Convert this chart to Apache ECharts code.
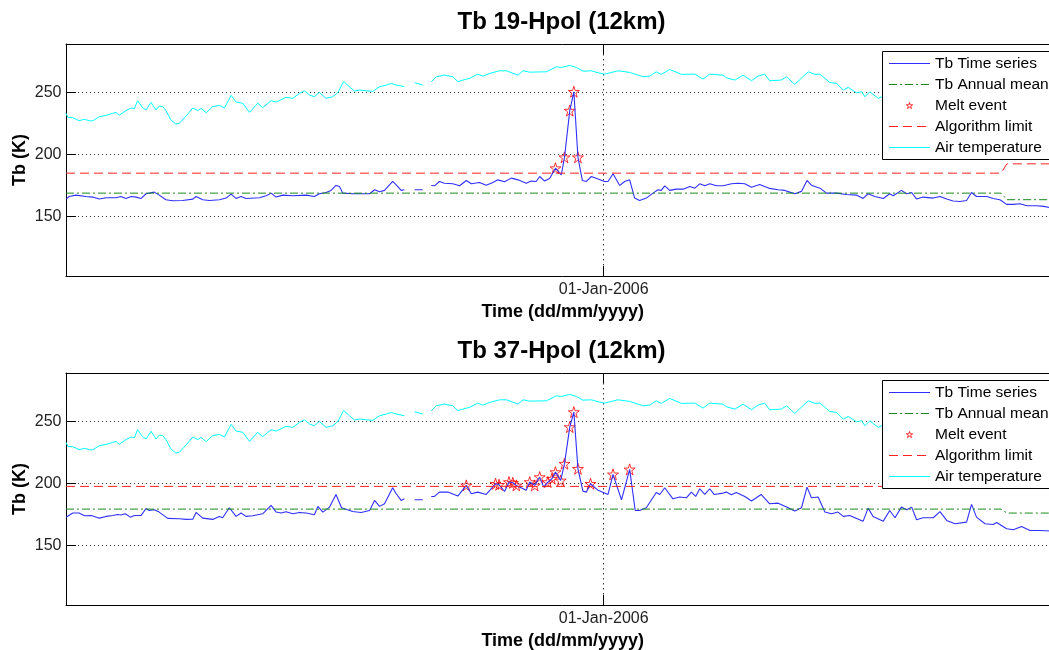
<!DOCTYPE html>
<html>
<head>
    <title>Tb 19/37-Hpol (12km)</title>
    <meta charset="utf-8" />
    <script src="https://cdn.jsdelivr.net/npm/echarts@6/dist/echarts.min.js"></script>
    <style>
        html, body { margin: 0; padding: 0; overflow: hidden; background: #fff; }
        .panel { position: absolute; left: 0; width: 1123px; height: 329px; }
    </style>
</head>
<body>
    <div id="chart1" class="panel" style="top: 0;"></div>
    <div id="chart2" class="panel" style="top: 329px;"></div>

    <script>
        // x = days from 01-Jan-2006, y = brightness temperature (K)
        var xMin = -184, xMax = 156;
        var xTicks = [0];
        var xTickLabels = ['01-Jan-2006'];
        var yMin = 102, yMax = 289;
        var yTicks = [150, 200, 250];

        // 19 GHz H-pol
        var tb19 = [
            [-184, 164.0], [-182.9, 166.1], [-180.6, 167.2], [-177.2, 166.1], [-174.9, 165.6], [-172.6, 164.0],
            [-170.3, 165.1], [-166.9, 165.1], [-165.2, 166.1], [-163.5, 164.5], [-161.7, 166.1], [-160.0, 165.6],
            [-158.3, 164.5], [-156.6, 168.3], [-153.8, 169.6], [-152.1, 167.2], [-149.8, 163.5], [-147.5, 162.6],
            [-144.1, 162.9], [-140.6, 164.0], [-139.5, 166.1], [-137.2, 163.5], [-134.9, 162.9], [-131.5, 163.5],
            [-129.2, 164.8], [-127.5, 168.0], [-125.8, 164.5], [-124.1, 166.1], [-122.4, 164.5], [-117.8, 165.1],
            [-115.5, 166.7], [-113.8, 168.8], [-112.1, 165.6], [-109.8, 167.2], [-106.4, 166.7], [-101.8, 167.2],
            [-99.0, 166.1], [-97.3, 168.3], [-95.0, 169.3], [-93.3, 171.0], [-91.6, 175.0], [-90.4, 174.2],
            [-89.3, 168.8], [-85.9, 168.3], [-80.1, 168.3], [-78.4, 171.5], [-76.7, 169.9], [-75.0, 171.0],
            [-72.2, 178.2], [-71.0, 175.5], [-69.3, 171.0], [-68.2, 171.5], [-66.5, null],
            [-64.7, 171.5], [-61.9, 171.5], [-60.5, null],
            [-59.0, 175.0], [-57.9, 174.7], [-56.2, 178.2], [-54.5, 176.8], [-51.6, 176.3], [-49.3, 174.7],
            [-47.0, 179.0], [-45.3, 176.3], [-42.5, 177.4], [-40.2, 175.2], [-37.9, 177.4], [-36.2, 179.5],
            [-33.9, 177.9], [-31.6, 180.9], [-29.3, 179.5], [-26.5, 176.8], [-24.8, 178.5], [-23.1, 178.2],
            [-21.9, 182.2], [-20.2, 178.5], [-18.5, 180.6], [-16.5, 188.9], [-14.5, 183.5], [-13.4, 197.7],
            [-11.6, 235.3], [-10.2, 250.5], [-8.8, 197.7], [-7.3, 179.0], [-5.9, 178.2], [-4.2, 182.2],
            [-1.9, 180.1], [0.3, 178.2], [1.5, 178.2], [3.2, 184.4], [5.5, 175.0], [7.2, 178.2],
            [8.9, 179.5], [10.6, 164.8], [12.3, 162.9], [14.6, 164.8], [16.9, 168.8], [18.6, 171.5],
            [19.7, 171.0], [20.9, 174.7], [22.6, 171.0], [24.9, 172.0], [27.2, 172.0], [29.5, 174.2],
            [31.2, 172.8], [32.9, 176.3], [34.6, 174.7], [36.3, 176.3], [38.6, 174.7], [40.9, 174.7],
            [43.7, 176.3], [46.0, 176.8], [48.3, 176.3], [50.6, 173.6], [53.4, 175.8], [56.8, 172.6],
            [59.7, 171.5], [62.0, 171.0], [63.7, 169.6], [65.4, 168.3], [67.7, 170.2], [69.6, 179.0],
            [71.1, 175.2], [74.0, 172.8], [76.3, 168.8], [79.7, 168.8], [83.1, 167.7], [86.5, 167.2],
            [88.8, 164.5], [90.5, 168.3], [92.8, 166.1], [95.7, 164.5], [97.9, 168.3], [99.1, 166.7],
            [101.9, 171.0], [103.7, 168.3], [105.4, 169.3], [107.1, 164.0], [109.3, 165.6], [112.8, 164.8],
            [115.1, 166.1], [117.4, 164.0], [119.6, 162.4], [121.9, 162.1], [124.2, 162.9], [125.9, 169.3],
            [127.6, 166.1], [131.1, 166.1], [133.3, 164.5], [135.6, 163.5], [137.9, 159.7], [140.2, 159.7],
            [142.5, 160.2], [144.8, 158.6], [148.2, 158.6], [150.6, 158.1], [153.0, 157.0]
        ];
        var melt19 = [[-16.5, 188.9], [-13.4, 197.7], [-11.6, 235.3], [-10.2, 250.5], [-8.8, 197.7]];
        var mean19 = [[-184, 168.8], [136, 168.8], [138, 163.5], [156, 163.5]];
        var limit19 = [[-184, 184.9], [136, 184.9], [138, 192.4], [156, 192.4]];

        // 37 GHz H-pol
        var tb37 = [
            [-184, 172.8], [-181.7, 176.1], [-179.5, 176.1], [-177.7, 173.9], [-175.4, 174.2], [-174.3, 173.4],
            [-172.6, 172.0], [-170.3, 173.4], [-168.0, 174.2], [-166.3, 175.0], [-165.2, 174.5], [-163.7, 175.5],
            [-162.0, 172.8], [-160.6, 174.2], [-158.3, 174.2], [-156.6, 179.8], [-155.5, 178.2], [-153.8, 178.8],
            [-152.1, 176.9], [-149.2, 171.8], [-145.2, 171.5], [-142.9, 171.0], [-140.6, 171.2], [-139.5, 176.6],
            [-137.2, 172.0], [-133.8, 171.0], [-131.5, 173.4], [-130.4, 172.3], [-128.1, 180.4], [-125.8, 173.4],
            [-124.1, 176.1], [-122.4, 173.4], [-120.1, 173.9], [-116.7, 175.5], [-113.8, 182.3], [-112.1, 176.9],
            [-110.4, 176.1], [-108.7, 177.2], [-106.4, 175.5], [-104.1, 176.6], [-101.8, 176.1], [-99.0, 174.7],
            [-97.8, 181.5], [-96.1, 176.9], [-93.8, 180.9], [-91.6, 191.1], [-89.7, 180.4], [-85.9, 177.4],
            [-83.0, 176.6], [-80.1, 178.2], [-78.4, 186.3], [-76.7, 181.5], [-75.0, 183.6], [-72.2, 196.5],
            [-71.0, 191.7], [-69.3, 186.3], [-68.2, 187.6], [-66.5, null],
            [-64.7, 186.8], [-61.9, 186.8], [-60.5, null],
            [-59.0, 189.5], [-57.9, 189.5], [-56.2, 193.0], [-53.3, 193.0], [-49.9, 189.8], [-47.0, 198.4],
            [-45.3, 191.7], [-43.1, 193.0], [-40.2, 191.1], [-37.0, 199.7], [-35.8, 198.9], [-33.9, 193.5],
            [-32.4, 201.1], [-31.1, 200.5], [-29.9, 198.4], [-26.5, 194.4], [-25.3, 201.1], [-23.6, 198.4],
            [-21.9, 205.1], [-20.5, 197.0], [-19.1, 201.1], [-17.7, 203.8], [-16.5, 209.1], [-14.7, 202.4],
            [-13.4, 215.9], [-11.6, 245.4], [-10.2, 257.5], [-8.8, 211.8], [-7.1, 193.8], [-5.9, 193.0],
            [-4.5, 199.7], [-1.9, 194.4], [1.5, 191.1], [3.2, 207.3], [6.1, 186.8], [8.9, 211.3],
            [10.8, 178.2], [12.3, 178.2], [14.6, 180.4], [18.0, 192.7], [19.2, 191.1], [20.9, 196.5],
            [23.7, 187.6], [26.0, 189.0], [28.3, 188.4], [30.0, 193.0], [31.5, 189.5], [32.9, 195.7],
            [34.6, 191.1], [36.3, 195.7], [37.8, 191.1], [40.9, 192.2], [42.0, 193.0], [43.7, 190.9],
            [45.4, 192.7], [48.3, 189.5], [50.6, 185.8], [53.9, 191.1], [56.8, 183.6], [59.7, 184.1],
            [62.6, 180.9], [65.4, 177.7], [67.7, 180.4], [69.6, 197.0], [71.1, 188.4], [73.4, 189.0],
            [75.7, 176.9], [78.0, 175.5], [80.2, 176.9], [82.0, 173.4], [84.2, 174.2], [88.8, 169.6],
            [90.5, 180.1], [92.2, 173.4], [95.7, 169.6], [97.9, 178.2], [99.7, 172.3], [101.9, 180.9],
            [103.7, 178.8], [105.4, 180.9], [107.1, 170.7], [109.3, 172.3], [112.8, 172.3], [115.1, 177.2],
            [117.4, 170.2], [120.2, 167.5], [124.2, 168.8], [125.9, 183.1], [127.6, 172.8], [130.5, 167.5],
            [133.3, 166.9], [134.5, 168.5], [137.9, 163.4], [140.2, 162.6], [143.0, 165.3], [145.9, 162.1],
            [149.3, 162.1], [153.0, 161.6]
        ];
        var melt37 = [
            [-47.0, 198.4], [-37.0, 199.7], [-35.8, 198.9], [-32.4, 201.1], [-31.1, 200.5], [-29.9, 198.4],
            [-25.3, 201.1], [-23.6, 198.4], [-21.9, 205.1], [-19.1, 201.1], [-17.7, 203.8], [-16.5, 209.1],
            [-14.7, 202.4], [-13.4, 215.9], [-11.6, 245.4], [-10.2, 257.5], [-8.8, 211.8], [-4.5, 199.7],
            [3.2, 207.3], [8.9, 211.3]
        ];
        var mean37 = [[-184, 179.3], [136, 179.3], [138, 176.1], [156, 176.1]];
        var limit37 = [[-184, 197.6], [156, 197.6]];

        // air temperature (same station for both panels), hidden behind the legend after ~day 96
        var airTemp = [
            [-184, 233.1], [-183.4, 229.9], [-181.7, 229.6], [-179.5, 227.2], [-177.7, 228.3], [-176.0, 227.2],
            [-174.9, 227.0], [-172.6, 230.4], [-170.3, 231.5], [-168.0, 233.1], [-166.9, 233.9], [-165.8, 231.5],
            [-163.5, 235.3], [-161.7, 237.4], [-160.6, 236.9], [-159.5, 243.3], [-157.8, 237.7], [-156.6, 235.8],
            [-154.9, 242.0], [-153.2, 235.8], [-152.1, 239.0], [-150.9, 238.5], [-149.8, 235.3], [-148.1, 227.8],
            [-146.4, 224.5], [-145.2, 225.1], [-142.9, 231.0], [-140.6, 237.4], [-138.9, 235.3], [-137.8, 237.1],
            [-136.0, 233.7], [-133.8, 238.5], [-131.5, 239.5], [-129.8, 237.4], [-127.5, 247.6], [-125.8, 242.2],
            [-123.5, 241.2], [-121.2, 233.9], [-118.4, 241.2], [-116.7, 237.7], [-113.8, 243.3], [-112.1, 242.2],
            [-108.7, 246.0], [-106.4, 245.2], [-104.1, 249.2], [-102.4, 251.3], [-100.7, 247.9], [-99.0, 246.5],
            [-97.3, 250.0], [-95.0, 245.2], [-92.7, 246.5], [-91.0, 249.7], [-89.0, 258.8], [-87.0, 254.6],
            [-85.3, 251.1], [-83.6, 251.9], [-79.0, 250.8], [-76.7, 254.6], [-74.4, 255.9], [-72.7, 257.2],
            [-71.0, 255.9], [-68.2, 254.6], [-66.5, null],
            [-64.7, 257.8], [-61.9, 255.9], [-60.5, null],
            [-59.0, 258.6], [-57.3, 262.6], [-54.5, 263.9], [-51.6, 262.6], [-49.9, 258.6], [-48.2, 259.9],
            [-45.9, 261.3], [-43.1, 264.7], [-41.4, 263.1], [-39.0, 265.3], [-35.6, 267.4], [-33.3, 267.4],
            [-29.3, 263.9], [-27.6, 267.4], [-25.3, 266.3], [-19.6, 266.6], [-16.2, 270.6], [-14.5, 270.1],
            [-11.6, 271.7], [-9.3, 270.1], [-7.1, 267.1], [-4.2, 267.4], [-1.9, 265.8], [0.3, 264.7],
            [4.9, 267.4], [8.9, 266.1], [13.5, 262.6], [15.8, 263.1], [18.0, 266.6], [19.7, 264.5],
            [22.6, 268.5], [26.6, 264.5], [31.2, 264.7], [34.0, 260.7], [36.3, 264.7], [40.9, 263.9],
            [42.0, 261.8], [44.9, 259.9], [47.7, 263.9], [50.6, 259.4], [52.8, 263.1], [55.1, 264.7],
            [56.8, 259.4], [60.8, 259.9], [62.6, 262.6], [65.4, 256.4], [70.0, 266.6], [72.3, 264.5],
            [74.0, 264.7], [77.4, 258.0], [79.7, 257.2], [82.0, 251.9], [83.7, 254.0], [86.5, 249.7],
            [88.3, 250.5], [89.4, 246.5], [91.1, 250.5], [92.2, 248.4], [94.0, 245.2], [95.7, 247.1]
        ];

        var FONT = '"Liberation Sans", Arial, Helvetica, sans-serif';
        var BLUE = '#2f2fff', GREEN = '#1a8a1a', RED = '#ff2020', CYAN = '#00ffff';
        // pentagram outline (MATLAB 'p' marker)
        var STAR = 'M50 0L61.2 34.5L97.6 34.5L68.2 55.9L79.4 90.5L50 69.1L20.6 90.5L31.8 55.9L2.4 34.5L38.8 34.5Z';
        // same star with tiny corner segments so the legend draws it smaller
        var STAR_SMALL = 'M-55 -60L-54.99 -60M155 150L155.01 150' + STAR;

        function starStyle() {
            return { color: 'rgba(255,0,0,0)', borderColor: '#ff0000', borderWidth: 1 };
        }

        // legend entry for a plain line: no dot, line drawn in the given colour/dash
        function lineEntry(name, color, dash) {
            return {
                name: name,
                itemStyle: { opacity: 0 },
                lineStyle: { color: color, width: 1, type: dash || 'solid', opacity: 1 }
            };
        }

        function buildOption(title, tb, melt, mean, limit) {
            var axisLineStyle = { color: '#000', width: 1 };
            var tickFont = { fontFamily: FONT, fontSize: 16, color: '#222' };
            var nameFont = { fontFamily: FONT, fontSize: 18, fontWeight: 'bold', color: '#000' };
            return {
                animation: false,
                title: {
                    text: title,
                    left: 'center',
                    top: 9,
                    padding: 0,
                    textStyle: { fontFamily: FONT, fontSize: 24, fontWeight: 'bold', color: '#000', lineHeight: 26 }
                },
                legend: {
                    orient: 'vertical',
                    left: 882.5,
                    top: 51.5,
                    padding: [3, 8, 3, 6],
                    itemWidth: 41,
                    itemHeight: 14,
                    itemGap: 3,
                    selectedMode: false,
                    backgroundColor: '#fff',
                    borderColor: '#000',
                    borderWidth: 1,
                    borderRadius: 0,
                    textStyle: { fontFamily: FONT, fontSize: 15.5, color: '#000', lineHeight: 18 },
                    data: [
                        lineEntry('Tb Time series', BLUE),
                        lineEntry('Tb Annual mean', GREEN, [8, 3, 2, 3]),
                        { name: 'Melt event', icon: 'path://' + STAR_SMALL, itemStyle: starStyle() },
                        lineEntry('Algorithm limit', RED, [9, 5]),
                        lineEntry('Air temperature', CYAN)
                    ]
                },
                grid: { left: 66, top: 44, width: 993.5, height: 232, outerBoundsMode: 'none', containLabel: false },
                xAxis: [{
                    type: 'value',
                    position: 'bottom',
                    min: xMin,
                    max: xMax,
                    name: 'Time (dd/mm/yyyy)',
                    nameLocation: 'middle',
                    nameGap: 24,
                    nameTextStyle: nameFont,
                    axisLine: { show: true, onZero: false, lineStyle: axisLineStyle },
                    axisTick: { show: true, inside: true, length: 10, customValues: xTicks, lineStyle: axisLineStyle },
                    axisLabel: {
                        customValues: xTicks,
                        margin: 6,
                        formatter: function (v) { return xTickLabels[xTicks.indexOf(v)]; },
                        fontFamily: tickFont.fontFamily, fontSize: tickFont.fontSize, color: tickFont.color
                    },
                    splitLine: { show: true, lineStyle: { color: '#333', width: 1, type: [1.5, 3.5] } }
                }, {
                    type: 'value',
                    position: 'top',
                    min: xMin,
                    max: xMax,
                    axisLine: { show: true, onZero: false, lineStyle: axisLineStyle },
                    axisTick: { show: true, inside: true, length: 10, customValues: xTicks, lineStyle: axisLineStyle },
                    axisLabel: { show: false },
                    splitLine: { show: false }
                }],
                yAxis: {
                    type: 'value',
                    min: yMin,
                    max: yMax,
                    name: 'Tb (K)',
                    nameLocation: 'middle',
                    nameGap: 36.5,
                    nameMoveOverlap: false,
                    nameTextStyle: nameFont,
                    axisLine: { show: true, onZero: false, lineStyle: axisLineStyle },
                    axisTick: { show: true, inside: true, length: 10, customValues: yTicks, lineStyle: axisLineStyle },
                    axisLabel: {
                        customValues: yTicks,
                        margin: 4.5,
                        fontFamily: tickFont.fontFamily, fontSize: tickFont.fontSize, color: tickFont.color
                    },
                    splitLine: { show: true, lineStyle: { color: '#333', width: 1, type: [1, 3] } }
                },
                series: [{
                    name: 'Tb Time series',
                    type: 'line',
                    data: tb,
                    symbol: 'none',
                    connectNulls: false,
                    silent: true,
                    itemStyle: { color: BLUE },
                    lineStyle: { color: BLUE, width: 1.1 }
                }, {
                    name: 'Tb Annual mean',
                    type: 'line',
                    data: mean,
                    symbol: 'none',
                    silent: true,
                    itemStyle: { color: GREEN },
                    lineStyle: { color: GREEN, width: 1, type: [8, 3, 2, 3] }
                }, {
                    name: 'Melt event',
                    type: 'scatter',
                    data: melt,
                    symbol: 'path://' + STAR,
                    symbolSize: 11,
                    silent: true,
                    itemStyle: starStyle()
                }, {
                    name: 'Algorithm limit',
                    type: 'line',
                    data: limit,
                    symbol: 'none',
                    silent: true,
                    itemStyle: { color: RED },
                    lineStyle: { color: RED, width: 1, type: [9, 5] }
                }, {
                    name: 'Air temperature',
                    type: 'line',
                    data: airTemp,
                    symbol: 'none',
                    connectNulls: false,
                    silent: true,
                    itemStyle: { color: CYAN },
                    lineStyle: { color: CYAN, width: 1 }
                }]
            };
        }

        var chart1 = echarts.init(document.getElementById('chart1'));
        chart1.setOption(buildOption('Tb 19-Hpol (12km)', tb19, melt19, mean19, limit19));

        var chart2 = echarts.init(document.getElementById('chart2'));
        chart2.setOption(buildOption('Tb 37-Hpol (12km)', tb37, melt37, mean37, limit37));
    </script>
</body>
</html>
